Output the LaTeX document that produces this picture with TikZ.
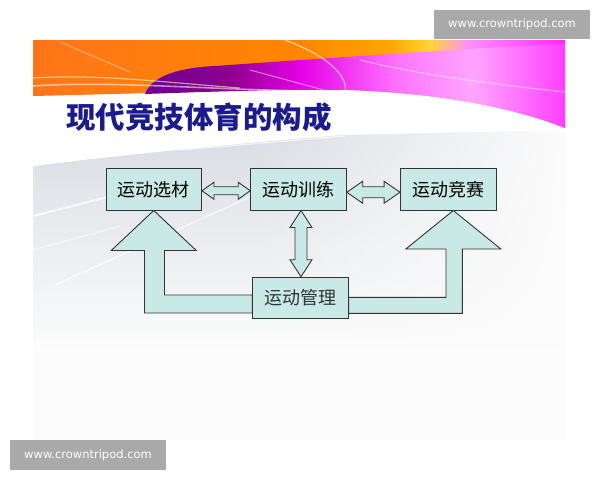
\documentclass[tikz,border=0pt]{standalone}
\usepackage{fontspec}
\setmainfont{DejaVu Sans}
\newfontfamily\cjk{Noto Sans CJK SC}
\newfontfamily\wmfont{DejaVu Sans}
\usetikzlibrary{calc,fadings}
\pgfdeclarelayer{back}
\pgfdeclarelayer{arr}
\pgfsetlayers{back,arr,main}
\definecolor{boxfill}{HTML}{C9E9E6}
\definecolor{boxline}{HTML}{333333}
\definecolor{titleblue}{HTML}{1B1B8E}
\definecolor{wmgray}{HTML}{A9A9A9}
\definecolor{graytop}{HTML}{D9DCE3}
\definecolor{slidebg}{HTML}{FCFCFC}
\pgfdeclarehorizontalshading{bannershade}{100bp}{%
  color(0bp)=(orange!80!red!90!white); color(25bp)=(orange!80!red!90!white);
  color(50bp)=(orange!95!yellow); color(58.6bp)=(orange!70!yellow);
  color(62.3bp)=(yellow!60!orange!80!white); color(66bp)=(magenta!45!white);
  color(75bp)=(magenta!85!white); color(100bp)=(magenta!85!white)}
\pgfdeclarehorizontalshading{bandshade}{100bp}{%
  color(0bp)=(violet!85!blue); color(25bp)=(violet!85!blue);
  color(35bp)=(violet!90!magenta); color(43.5bp)=(magenta!80!violet);
  color(55bp)=(magenta!55!white); color(64bp)=(magenta!35!white);
  color(75bp)=(magenta!75!white); color(100bp)=(magenta!75!white)}
\tikzset{
  boxnode/.style={draw=boxline, line width=1pt, fill=boxfill, minimum width=95.5pt,
    minimum height=41.5pt, inner sep=0pt, font=\cjk\fontsize{18}{18}\selectfont},
  blk/.style={draw=boxline, line width=0.9pt, fill=boxfill, line join=miter},
  wmark/.style={fill=wmgray, text=white, minimum width=156pt, minimum height=29.5pt,
    inner sep=0pt, font=\wmfont\fontsize{11.5}{11.5}\selectfont},
  streak/.style={white, line cap=round}
}
\begin{document}
\begin{tikzpicture}[x=1pt, y=-1pt]
\useasboundingbox (0,0) rectangle (600,480);
\begin{pgfonlayer}{back}
  \fill[white] (0,0) rectangle (600,480);
  \fill[slidebg] (33,40) rectangle (565,440);
  % gray swath
  \shade[top color=graytop, bottom color=slidebg]
    (33,166) .. controls (120,155) and (220,145) .. (340,135) -- (565,128) -- (565,350) -- (33,350) -- cycle;
  \fill[slidebg, path fading=west] (250,120) rectangle (566,352);
  \draw[streak, opacity=0.7, line width=2.2pt] (33,216) -- (190,176);
  \draw[streak, opacity=0.6, line width=1.6pt] (55,285) -- (270,188);
  \draw[streak, opacity=0.6, line width=1.4pt] (180,150) -- (345,136);
  \draw[streak, opacity=0.5, line width=1.2pt] (33,250) -- (120,226);
  % white swoosh under banner
  \fill[white] (33,96) .. controls (200,92) and (300,88) .. (350,90)
    .. controls (450,94) and (520,110) .. (565,128) -- (565,130) -- (340,135)
    .. controls (220,145) and (120,155) .. (33,166) -- cycle;
  % banner
  \shade[shading=bannershade] (33,40) -- (565,40) -- (565,128)
    .. controls (520,110) and (450,94) .. (350,90)
    .. controls (300,88) and (200,92) .. (33,96) -- cycle;
  % purple band
  \shade[shading=bandshade] (145,94) .. controls (150,80) and (170,68) .. (215,66)
    -- (300,60) .. controls (380,55) and (470,48) .. (565,44) -- (565,128)
    .. controls (520,110) and (450,94) .. (350,90)
    .. controls (280,89) and (200,92) .. (145,94) -- cycle;
  % light streaks in banner
  \draw[streak, opacity=0.55, line width=1.6pt] (33,86) .. controls (120,80) and (230,92) .. (345,91);
  \draw[yellow!30!white, opacity=0.6, line width=1.2pt] (33,78) .. controls (100,74) and (160,82) .. (240,88);
  \draw[streak, opacity=0.6, line width=1.2pt] (285,40) .. controls (325,55) and (350,75) .. (345,95);
  \draw[streak, opacity=0.5, line width=1pt] (250,70) -- (335,93);
  \draw[streak, opacity=0.5, line width=1pt] (360,60) .. controls (420,75) and (500,85) .. (565,92);
  \draw[streak, opacity=0.4, line width=1pt] (60,42) -- (130,72);
\end{pgfonlayer}

% title
\node[anchor=west, text=titleblue, inner sep=0pt, font=\cjk\bfseries\fontsize{29.5}{29.5}\selectfont]
  (title) at (66,117.5) {现代竞技体育的构成};

% boxes
\node[boxnode] (b1) at (153.75,189.25) {运动选材};
\node[boxnode] (b2) at (298.5,189.25) {运动训练};
\node[boxnode] (b3) at (448.3,189.25) {运动竞赛};
\node[boxnode, text=black!80] (b4) at (300.5,298) {运动管理};

\begin{pgfonlayer}{arr}
  % b1 <-> b2
  \coordinate (p1) at ($(b1.east)+(0,1.5)$);
  \coordinate (p2) at ($(b2.west)+(0,1.5)$);
  \draw[blk] (p1) -- ++(12,-8.5) -- ++(0,4.5) -- ($(p2)+(-12,-4)$) -- ++(0,-4.5) -- (p2)
    -- ++(-12,8.5) -- ++(0,-4.5) -- ($(p1)+(12,4)$) -- ++(0,4.5) -- cycle;
  % b2 <-> b3
  \coordinate (r1) at ($(b2.east)+(0,3)$);
  \coordinate (r2) at ($(b3.west)+(0,3)$);
  \draw[blk] (r1) -- ++(16,-11) -- ++(0,5.5) -- ($(r2)+(-16,-5.5)$) -- ++(0,-5.5) -- (r2)
    -- ++(-16,11) -- ++(0,-5.5) -- ($(r1)+(16,5.5)$) -- ++(0,5.5) -- cycle;
  % b2 <-> b4
  \coordinate (q1) at ($(b2.south)+(2.5,0)$);
  \coordinate (q2) at ($(b4.north)+(0.5,0)$);
  \draw[blk] (q1) -- ++(11,17) -- ++(-5,0) -- ($(q2)+(6,-17)$) -- ++(5,0) -- (q2)
    -- ++(-11,-17) -- ++(5,0) -- ($(q1)+(-6,17)$) -- ++(-5,0) -- cycle;
  % b4 -> b1
  \draw[blk] (b1.south) -- ++(42.5,40) -- ++(-31.75,0) |- ($(b4.west)+(0,-3)$)
    -- ($(b4.west)+(0,15)$) -| ($(b1.south)+(-9.25,40)$) -- ++(-33.25,0) -- cycle;
  % b4 -> b3
  \coordinate (rt) at ($(b3.south)+(5,0)$);
  \draw[blk] (rt) -- ++(47.5,38.5) -- ++(-38.5,0) |- ($(b4.east)+(0,15.3)$)
    -- ($(b4.east)+(0,-0.7)$) -| ($(rt)+(-7.3,38.5)$) -- ++(-40.2,0) -- cycle;
\end{pgfonlayer}

% watermarks
\node[wmark] (wm1) at (512,24.5) {www.crowntripod.com};
\node[wmark] (wm2) at (88,455) {www.crowntripod.com};
\end{tikzpicture}
\end{document}
